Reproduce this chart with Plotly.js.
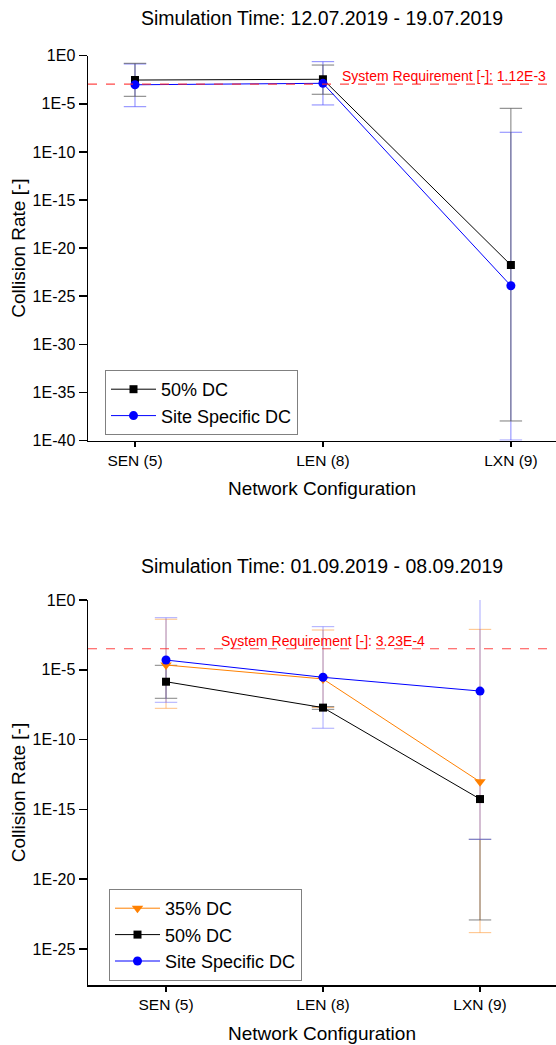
<!DOCTYPE html>
<html>
<head>
<meta charset="utf-8">
<script src="https://cdn.plot.ly/plotly-3.0.1.min.js"></script>
<style>html,body{margin:0;padding:0;background:#fff;}#chart{width:556px;height:1045px;}</style>
</head>
<body>
<div id="chart"></div>
<script>
// ---------- data ----------
const categories = ["SEN (5)", "LEN (8)", "LXN (9)"];
const catIndex = [0, 1, 2];

// Top panel: 12.07.2019 - 19.07.2019
const topTitle = "Simulation Time: 12.07.2019 - 19.07.2019";
const topRequirement = 1.12e-3;
const topDC50      = [2.95e-3, 3.55e-3, 1.74e-22];
const topDC50Hi    = [0.162, 0.107, 3.4e-6];
const topDC50Lo    = [6.0e-5, 9.8e-5, 1.07e-38];
const topSite      = [9.5e-4, 1.35e-3, 1.23e-24];
const topSiteHi    = [0.138, 0.24, 1.1e-8];
const topSiteLo    = [5.0e-6, 7.6e-6, 1.1e-40];

// Bottom panel: 01.09.2019 - 08.09.2019
const botTitle = "Simulation Time: 01.09.2019 - 08.09.2019";
const botRequirement = 3.23e-4;
const botDC35      = [2.2e-5, 2.2e-6, 9.5e-14];
const botDC35Hi    = [0.042, 7.1e-3, 7.9e-3];
const botDC35Lo    = [1.74e-8, 2.0e-8, 1.48e-24];
const botDC50      = [1.4e-6, 1.95e-8, 5.5e-15];
const botDC50Hi    = [2.1e-5, 2.3e-8, 7.2e-18];
const botDC50Lo    = [9.1e-8, 1.48e-8, 1.2e-23];
const botSite      = [5.0e-5, 2.9e-6, 3.0e-7];
const botSiteHi    = [0.054, 0.0123, 2.0];
const botSiteLo    = [4.7e-8, 6.5e-10, 7.2e-18];

const topTickVals = [1, 1e-5, 1e-10, 1e-15, 1e-20, 1e-25, 1e-30, 1e-35, 1e-40];
const topTickText = ["1E0","1E-5","1E-10","1E-15","1E-20","1E-25","1E-30","1E-35","1E-40"];
const botTickVals = [1, 1e-5, 1e-10, 1e-15, 1e-20, 1e-25];
const botTickText = ["1E0","1E-5","1E-10","1E-15","1E-20","1E-25"];

// ---------- helpers ----------
const FONT = "Arial, 'Liberation Sans', sans-serif";
function errTraces(lo, hi, color, xa, ya) {
  const xs = [], ys = [], cx = [], cy = [];
  catIndex.forEach((c, i) => {
    xs.push(c, c, null); ys.push(lo[i], hi[i], null);
    cx.push(c, c); cy.push(lo[i], hi[i]);
  });
  return [
    {x: xs, y: ys, xaxis: xa, yaxis: ya, mode: "lines", line: {color: color, width: 1},
     showlegend: false, hoverinfo: "skip"},
    {x: cx, y: cy, xaxis: xa, yaxis: ya, mode: "markers",
     marker: {symbol: "line-ew", size: 16, color: color, line: {color: color, width: 1}},
     showlegend: false, hoverinfo: "skip"}
  ];
}
function mainTrace(y, name, color, symbol, size, xa, ya, legend) {
  return {x: catIndex, y: y, name: name, xaxis: xa, yaxis: ya, legend: legend,
    mode: "lines+markers", line: {color: color, width: 1},
    marker: {symbol: symbol, size: size, color: color, line: {width: 0}}};
}

const traces = [
  ...errTraces(topSiteLo, topSiteHi, "rgba(80,80,255,0.7)", "x", "y"),
  ...errTraces(topDC50Lo, topDC50Hi, "rgba(90,90,90,0.8)", "x", "y"),
  mainTrace(topDC50, "50% DC", "#000000", "square", 8, "x", "y", "legend"),
  mainTrace(topSite, "Site Specific DC", "#0000ff", "circle", 9, "x", "y", "legend"),

  ...errTraces(botDC35Lo, botDC35Hi, "rgba(255,150,50,0.6)", "x2", "y2"),
  ...errTraces(botDC50Lo, botDC50Hi, "rgba(90,90,90,0.75)", "x2", "y2"),
  ...errTraces(botSiteLo, botSiteHi, "rgba(100,100,255,0.55)", "x2", "y2"),
  mainTrace(botDC35, "35% DC", "#ff8000", "triangle-down", 10, "x2", "y2", "legend2"),
  mainTrace(botDC50, "50% DC", "#000000", "square", 8, "x2", "y2", "legend2"),
  mainTrace(botSite, "Site Specific DC", "#0000ff", "circle", 9, "x2", "y2", "legend2")
];

const H = 1045;
function py(px) { return 1 - px / H; }

const xCommon = {
  tickmode: "array", tickvals: catIndex, ticktext: categories,
  showline: true, linecolor: "#000", linewidth: 1.5, mirror: false,
  ticks: "outside", ticklen: 5, tickwidth: 1.5, tickcolor: "#000",
  showgrid: false, zeroline: false, automargin: false,
  tickfont: {family: FONT, size: 15.5, color: "#000"},
  title: {text: "Network Configuration", font: {family: FONT, size: 19, color: "#000"}, standoff: 14}
};
const yCommon = {
  type: "log", tickmode: "array",
  showline: true, linecolor: "#000", linewidth: 1.5, mirror: false,
  ticks: "outside", ticklen: 8, tickwidth: 1.5, tickcolor: "#000",
  showgrid: false, zeroline: false, automargin: false,
  tickfont: {family: FONT, size: 16, color: "#000"},
  title: {text: "Collision Rate [-]", font: {family: FONT, size: 19, color: "#000"}, standoff: 2}
};

const legendCommon = {xanchor: "left", yanchor: "top", xref: "paper", yref: "paper",
  bgcolor: "#fff", bordercolor: "#808080", borderwidth: 1, itemwidth: 45,
  font: {family: FONT, size: 18, color: "#000"}, tracegroupgap: 0};

const layout = {
  width: 556, height: H,
  margin: {l: 88, r: 0, t: 0, b: 0},
  paper_bgcolor: "#fff", plot_bgcolor: "#fff",
  font: {family: FONT, color: "#000"},
  showlegend: true,
  xaxis: Object.assign({}, xCommon, {domain: [0, 1], anchor: "y", range: [-0.25, 2.24]}),
  yaxis: Object.assign({}, yCommon, {domain: [py(440.5), py(55.7)], anchor: "x",
    range: [-40, 0], tickvals: topTickVals, ticktext: topTickText}),
  xaxis2: Object.assign({}, xCommon, {domain: [0, 1], anchor: "y2", range: [-0.497, 2.484]}),
  yaxis2: Object.assign({}, yCommon, {domain: [py(985), py(600)], anchor: "x2",
    range: [-27.58, 0], tickvals: botTickVals, ticktext: botTickText}),
  legend: Object.assign({}, legendCommon, {x: (105 - 88) / 468, y: py(370)}),
  legend2: Object.assign({}, legendCommon, {x: (109 - 88) / 468, y: py(889)}),
  shapes: [
    {type: "line", xref: "x domain", yref: "y", x0: 0, x1: 1, y0: topRequirement, y1: topRequirement,
     line: {color: "rgba(255,40,40,0.85)", width: 1.2, dash: "dash"}},
    {type: "line", xref: "x2 domain", yref: "y2", x0: 0, x1: 1, y0: botRequirement, y1: botRequirement,
     line: {color: "rgba(255,40,40,0.85)", width: 1.2, dash: "dash"}}
  ],
  annotations: [
    {text: topTitle, xref: "paper", yref: "paper", x: 0.5, y: py(18), xanchor: "center", yanchor: "middle",
     showarrow: false, font: {family: FONT, size: 19.5, color: "#000"}},
    {text: botTitle, xref: "paper", yref: "paper", x: 0.5, y: py(566), xanchor: "center", yanchor: "middle",
     showarrow: false, font: {family: FONT, size: 19.5, color: "#000"}},
    {text: "System Requirement [-]: " + "1.12E-3", xref: "paper", yref: "y", x: (548 - 88) / 468,
     y: Math.log10(topRequirement), xanchor: "right", yanchor: "bottom", yshift: -2,
     showarrow: false, font: {family: FONT, size: 14, color: "#ff0000"}},
    {text: "System Requirement [-]: " + "3.23E-4", xref: "x2", yref: "y2", x: 1,
     y: Math.log10(botRequirement), xanchor: "center", yanchor: "bottom", yshift: -2,
     showarrow: false, font: {family: FONT, size: 14, color: "#ff0000"}}
  ]
};

Plotly.newPlot("chart", traces, layout, {displayModeBar: false, staticPlot: true});
</script>
</body>
</html>
